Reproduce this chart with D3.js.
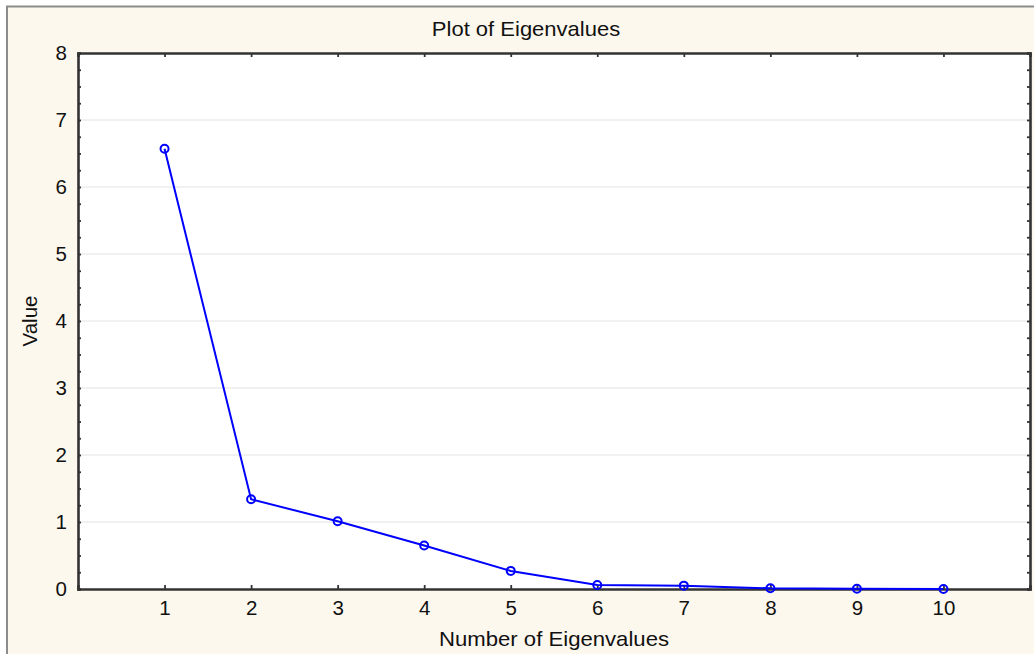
<!DOCTYPE html>
<html>
<head>
<meta charset="utf-8">
<script src="https://cdn.jsdelivr.net/npm/d3@7"></script>
<style>
  body { margin: 0; background: #ffffff; }
  text { font-family: "Liberation Sans", Arial, sans-serif; fill: #111; }
</style>
</head>
<body>
<svg id="chart"></svg>
<script>
// eigenvalue numbers and their values
var eigenNumbers = [1, 2, 3, 4, 5, 6, 7, 8, 9, 10];
var eigenValues = [6.57, 1.34, 1.01, 0.65, 0.27, 0.06, 0.05, 0.01, 0.003, 0.001];
var yTicks = [0, 1, 2, 3, 4, 5, 6, 7, 8];
var xTicks = [1, 2, 3, 4, 5, 6, 7, 8, 9, 10];

var svgWidth = 1034, svgHeight = 654;

var svg = d3.select("#chart")
  .attr("width", svgWidth)
  .attr("height", svgHeight);

// outer panel
svg.append("rect")
  .attr("x", 7).attr("y", 6.5)
  .attr("width", svgWidth + 20).attr("height", svgHeight)
  .attr("fill", "#fdf8ee")
  .attr("stroke", "#8c8c8c")
  .attr("stroke-width", 2);

let margin = { top: 53, right: 4, bottom: 65, left: 78 };
let plotWidth = svgWidth - margin.left - margin.right;
let plotHeight = svgHeight - margin.top - margin.bottom;

var x = d3.scaleLinear().domain([0, 11]).range([margin.left, margin.left + plotWidth]);
var y = d3.scaleLinear().domain([0, 8]).range([margin.top + plotHeight, margin.top]);

// plot background
svg.append("rect")
  .attr("x", x(0)).attr("y", y(8))
  .attr("width", x(11) - x(0)).attr("height", y(0) - y(8))
  .attr("fill", "#ffffff");

// gridlines
svg.append("g").selectAll("line")
  .data(yTicks.slice(1, -1))
  .enter().append("line")
  .attr("x1", x(0)).attr("x2", x(11))
  .attr("y1", d => y(d)).attr("y2", d => y(d))
  .attr("stroke", "#e2e2e2")
  .attr("stroke-width", 1);

// axes (ticks pointing inward)
var minor = d3.range(0, 8.01, 0.25);

var yAxisL = svg.append("g")
  .attr("transform", `translate(${x(0)},0)`)
  .call(d3.axisRight(y).tickValues(minor).tickSize(3).tickFormat(""));
var yLabels = svg.append("g")
  .attr("transform", `translate(${x(0)},0)`)
  .call(d3.axisLeft(y).tickValues(yTicks).tickSize(0).tickPadding(11));

var yAxisR = svg.append("g")
  .attr("transform", `translate(${x(11)},0)`)
  .call(d3.axisLeft(y).tickValues(minor).tickSize(3).tickFormat(""));

var xAxisB = svg.append("g")
  .attr("transform", `translate(0,${y(0)})`)
  .call(d3.axisTop(x).tickValues(xTicks).tickSize(4).tickFormat(""));
var xLabels = svg.append("g")
  .attr("transform", `translate(0,${y(0)})`)
  .call(d3.axisBottom(x).tickValues(xTicks).tickSize(0).tickPadding(11));

var xAxisT = svg.append("g")
  .attr("transform", `translate(0,${y(8)})`)
  .call(d3.axisBottom(x).tickValues(xTicks).tickSize(4).tickFormat(""));

svg.selectAll(".domain").attr("stroke", "#333").attr("stroke-width", 2.6);
svg.selectAll(".tick line").attr("stroke", "#333").attr("stroke-width", 1.8);
yLabels.selectAll(".domain").remove();
xLabels.selectAll(".domain").remove();
svg.selectAll(".tick text")
  .style("font-family", "'Liberation Sans', Arial, sans-serif")
  .style("font-size", "20.5px")
  .attr("fill", "#111");

// data line
var pts = eigenNumbers.map((n, i) => [n, eigenValues[i]]);
var line = d3.line().x(d => x(d[0])).y(d => y(d[1]));

svg.append("path")
  .datum(pts)
  .attr("d", line)
  .attr("fill", "none")
  .attr("stroke", "#0000ff")
  .attr("stroke-width", 2);

svg.append("g").selectAll("circle")
  .data(pts)
  .enter().append("circle")
  .attr("cx", d => x(d[0]))
  .attr("cy", d => y(d[1]))
  .attr("r", 4)
  .attr("fill", "none")
  .attr("stroke", "#0000ff")
  .attr("stroke-width", 2);

// titles
svg.append("text")
  .attr("transform", "translate(526,36) scale(1.1,1)")
  .style("text-anchor", "middle")
  .style("font-size", "20px")
  .text("Plot of Eigenvalues");

svg.append("text")
  .attr("transform", `translate(${(x(0) + x(11)) / 2},646) scale(1.08,1)`)
  .style("text-anchor", "middle")
  .style("font-size", "20.5px")
  .text("Number of Eigenvalues");

svg.append("text")
  .attr("transform", `translate(37,${(y(0) + y(8)) / 2}) rotate(-90)`)
  .style("text-anchor", "middle")
  .style("font-size", "20.5px")
  .text("Value");
</script>
</body>
</html>
